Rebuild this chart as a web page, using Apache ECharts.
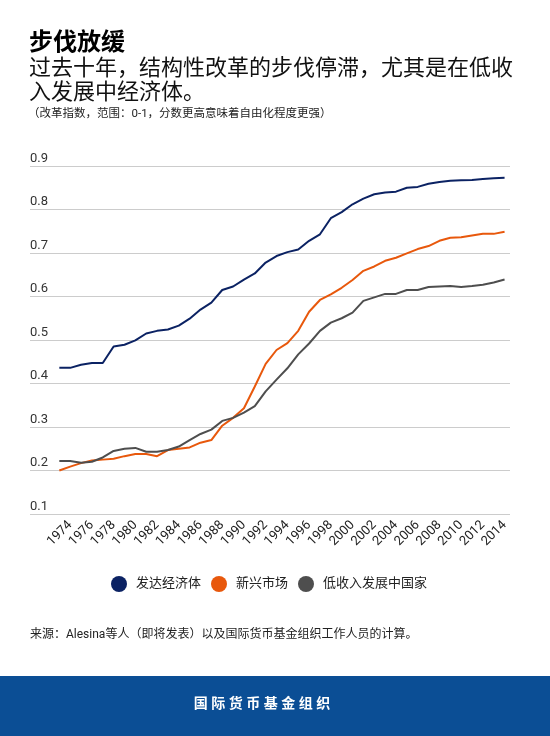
<!DOCTYPE html>
<html>
<head>
<meta charset="utf-8">
<script src="https://cdn.jsdelivr.net/npm/echarts@6/dist/echarts.min.js"></script>
<style>
html,body{margin:0;padding:0;background:#fff;}
#chart{width:550px;height:736px;}
</style>
</head>
<body>
<div id="chart"></div>
<script>
var years = [1973,1974,1975,1976,1977,1978,1979,1980,1981,1982,1983,1984,1985,1986,1987,1988,1989,1990,1991,1992,1993,1994,1995,1996,1997,1998,1999,2000,2001,2002,2003,2004,2005,2006,2007,2008,2009,2010,2011,2012,2013,2014];
var advanced = [0.436,0.436,0.443,0.447,0.447,0.485,0.489,0.499,0.515,0.521,0.524,0.533,0.549,0.570,0.586,0.615,0.623,0.639,0.653,0.678,0.693,0.702,0.708,0.728,0.743,0.780,0.794,0.812,0.825,0.835,0.839,0.841,0.850,0.852,0.859,0.863,0.866,0.867,0.868,0.870,0.872,0.873];
var emerging = [0.200,0.209,0.217,0.223,0.225,0.227,0.233,0.238,0.238,0.233,0.247,0.250,0.253,0.264,0.270,0.303,0.321,0.343,0.393,0.445,0.477,0.493,0.521,0.565,0.592,0.605,0.620,0.638,0.659,0.669,0.682,0.689,0.699,0.709,0.716,0.728,0.735,0.736,0.740,0.744,0.744,0.749];
var lowIncome = [0.222,0.222,0.218,0.220,0.230,0.245,0.250,0.252,0.243,0.243,0.247,0.255,0.270,0.284,0.294,0.314,0.321,0.333,0.348,0.382,0.409,0.435,0.467,0.492,0.521,0.540,0.550,0.563,0.590,0.598,0.606,0.606,0.615,0.615,0.622,0.623,0.624,0.622,0.624,0.627,0.632,0.639];
var xTickLabels = [1974,1976,1978,1980,1982,1984,1986,1988,1990,1992,1994,1996,1998,2000,2002,2004,2006,2008,2010,2012,2014];
var yTicks = [0.1,0.2,0.3,0.4,0.5,0.6,0.7,0.8,0.9];
var seriesNames = ['发达经济体','新兴市场','低收入发展中国家'];
var colors = ['#0b2263','#e8580c','#4e4e4e'];

var FONT = "Roboto, 'Noto Sans CJK SC', sans-serif";
function pairs(vals){ return years.map(function(y,i){ return [y, vals[i]]; }); }

var chart = echarts.init(document.getElementById('chart'), null, {renderer:'canvas'});
var option = {
  animation:false,
  backgroundColor:'#ffffff',
  color: colors,
  textStyle:{fontFamily:FONT},
  grid:{left:30,right:40,top:166,bottom:222,containLabel:false},
  xAxis:{
    type:'value', min:1970.3, max:2014.5,
    axisLine:{show:false}, axisTick:{show:false}, splitLine:{show:false},
    axisLabel:{
      customValues: xTickLabels,
      rotate:45, margin:9, fontSize:13, color:'#222', fontFamily:FONT,
      formatter:function(v){return String(Math.round(v));}
    }
  },
  yAxis:{
    type:'value', min:yTicks[0], max:yTicks[yTicks.length-1], interval:0.1,
    axisLine:{show:false}, axisTick:{show:false},
    splitLine:{lineStyle:{color:'#cccccc',width:1}},
    axisLabel:{
      inside:true, margin:0, verticalAlign:'bottom', align:'left',
      fontSize:13, color:'#333', fontFamily:FONT, padding:[0,0,1,0],
      formatter:function(v){return v.toFixed(1);}
    }
  },
  legend:{
    top:576, left:111, padding:0,
    icon:'circle', itemWidth:16, itemHeight:16, itemGap:10,
    textStyle:{fontSize:13, color:'#222', fontFamily:FONT, padding:[0,0,0,4]},
    data:seriesNames
  },
  series:[
    {name:seriesNames[0], type:'line', data:pairs(advanced), showSymbol:false, lineStyle:{width:2}},
    {name:seriesNames[1], type:'line', data:pairs(emerging), showSymbol:false, lineStyle:{width:2}},
    {name:seriesNames[2], type:'line', data:pairs(lowIncome), showSymbol:false, lineStyle:{width:2}}
  ],
  graphic:[
    {type:'text', left:29, top:32, style:{text:'步伐放缓', font:"bold 24px " + FONT, fill:'#000'}},
    {type:'text', left:29, top:58, style:{text:'过去十年，结构性改革的步伐停滞，尤其是在低收', font:"22px " + FONT, fill:'#111'}},
    {type:'text', left:29, top:82, style:{text:'入发展中经济体。', font:"22px " + FONT, fill:'#111'}},
    {type:'text', left:28, top:108, style:{text:'（改革指数，范围：0-1，分数更高意味着自由化程度更强）', font:"11.5px " + FONT, fill:'#222'}},
    {type:'text', left:30, top:629, style:{text:'来源：Alesina等人（即将发表）以及国际货币基金组织工作人员的计算。', font:"12px " + FONT, fill:'#222'}},
    {type:'rect', shape:{x:0,y:676,width:550,height:60}, style:{fill:'#0b4e95'}},
    {type:'text', x:262, y:704, style:{text:'国 际 货 币 基 金 组 织', font:"bold 14px " + FONT, fill:'#ffffff', align:'center', verticalAlign:'middle'}}
  ]
};
chart.setOption(option);
</script>
</body>
</html>
